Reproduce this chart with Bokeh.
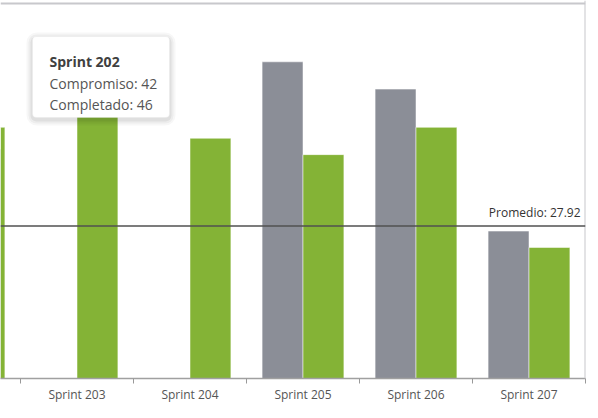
from bokeh.plotting import figure
from bokeh.models import (ColumnDataSource, Range1d, LinearAxis, FixedTicker, Span,
                          Label, BoxAnnotation)
from bokeh.transform import dodge
from bokeh.embed import file_html
from bokeh.resources import INLINE

# ---- data ----
sprints = ["Sprint 202", "Sprint 203", "Sprint 204", "Sprint 205", "Sprint 206", "Sprint 207"]
compromiso = [42, 0, 0, 58, 53, 27]
completado = [46, 50, 44, 41, 46, 24]
promedio = 27.92

FONT = "Open Sans"
GRAY = "#8b8e97"
GREEN = "#84b336"

PXU = 5.46          # px per value unit
BASE = 378          # frame bottom, px
idx = list(range(len(sprints)))
src = ColumnDataSource(dict(idx=idx, sprint=sprints, compromiso=compromiso, completado=completado))

x0 = idx[1] - 0.5 - 20 / 113
y_end = BASE / PXU
p = figure(width=598, height=418, output_backend="svg", toolbar_location=None,
           x_range=Range1d(x0, idx[-1] + 0.5),
           y_range=Range1d(0, y_end),
           x_axis_location=None, y_axis_location=None,
           min_border_left=0, min_border_right=13, min_border_top=0, min_border_bottom=40)
p.grid.visible = False
p.outline_line_color = None
p.background_fill_color = "white"
p.border_fill_color = "white"

bw = 0.362
p.vbar(x=dodge("idx", -bw / 2), top="compromiso", width=bw, source=src,
       fill_color=GRAY, line_color="white", line_alpha=0.5, line_width=1)
p.vbar(x=dodge("idx", bw / 2), top="completado", width=bw, source=src,
       fill_color=GREEN, line_color="white", line_alpha=0.5, line_width=1)

# x axis: labels at centers, ticks at boundaries
boundaries = [idx[0] - 0.5] + [i + 0.5 for i in idx]
xaxis = LinearAxis(ticker=FixedTicker(ticks=idx, minor_ticks=boundaries),
                   major_label_overrides={i: s for i, s in zip(idx, sprints)},
                   major_tick_line_color=None, major_tick_out=5, major_tick_in=0,
                   minor_tick_line_color="#999999", minor_tick_out=5, minor_tick_in=0,
                   axis_line_color="#a0a0a0", axis_line_width=1.5,
                   major_label_text_font=FONT, major_label_text_font_size="12px",
                   major_label_text_color="#555555", major_label_standoff=2)
p.add_layout(xaxis, "below")

# container border (top & right)
p.add_layout(Span(location=(BASE - 3) / PXU, dimension="width", line_color="#c8c8cc", line_width=2))
p.add_layout(Span(location=idx[-1] + 0.5, dimension="height", line_color="#c8c8cc", line_width=2))

# average line
p.add_layout(Span(location=promedio, dimension="width", line_color="#505050", line_width=1.5))
p.add_layout(Label(x=idx[-1] + 0.5, y=promedio, x_offset=-5, y_offset=5,
                   text=f"Promedio: {promedio:.2f}", text_align="right", text_baseline="bottom",
                   text_font=FONT, text_font_size="12px", text_color="#333333"))

# tooltip (static)
def px_x(px):
    return x0 + px / 113.0
def px_y(py):
    return (BASE - py) / PXU

for k, a in [(6, 0.03), (4, 0.04), (2, 0.06)]:
    p.add_layout(BoxAnnotation(left=px_x(32 - k), right=px_x(169 + k), top=px_y(36 - k + 2), bottom=px_y(117 + k + 2),
                               fill_color="black", fill_alpha=a, line_color=None, border_radius=4 + k))
p.add_layout(BoxAnnotation(left=px_x(32), right=px_x(169), top=px_y(36), bottom=px_y(117),
                           fill_color="white", fill_alpha=1, line_color="#e6e6e6", line_width=1,
                           border_radius=4))
i0 = 0
lines = [(sprints[i0], "bold", "#404040", 61),
         (f"Compromiso: {compromiso[i0]}", "normal", "#555555", 83),
         (f"Completado: {completado[i0]}", "normal", "#555555", 104)]
for txt, style, col, base in lines:
    p.add_layout(Label(x=px_x(49), y=px_y(base), text=txt, text_font=FONT, text_font_size="14px",
                       text_font_style=style, text_color=col, text_baseline="alphabetic",
                       text_align="left"))

open("out.html", "w").write(file_html(p, INLINE))
